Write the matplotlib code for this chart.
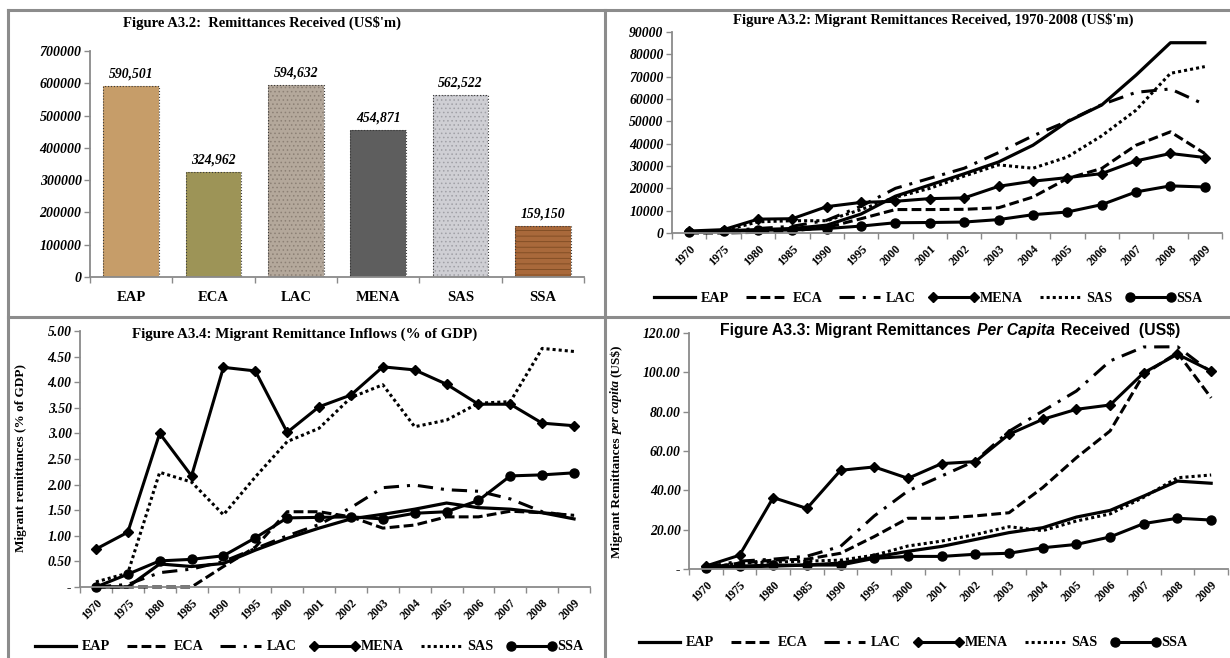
import numpy as np
import matplotlib
matplotlib.use("Agg")
import matplotlib.pyplot as plt
from matplotlib.lines import Line2D

W, H = 1230, 658

REGIONS = ["EAP", "ECA", "LAC", "MENA", "SAS", "SSA"]
YEARS = ["1970", "1975", "1980", "1985", "1990", "1995", "2000", "2001",
         "2002", "2003", "2004", "2005", "2006", "2007", "2008", "2009"]

# Figure A3.2 - total remittances received (US$m)
BAR_TOTALS = [590501, 324962, 594632, 454871, 562522, 159150]

# Figure A3.2 - remittances received per year (US$m)
USD_EAP = [200, 1000, 1500, 2000, 3500, 8500, 16500, 21500, 26500, 31800, 39300, 49800, 57300, 70700, 85200, 85200]
USD_ECA = [0, 0, 300, 1000, 2500, 6400, 10500, 10500, 10600, 11300, 16100, 24400, 28900, 39300, 45300, 35600]
USD_LAC = [200, 1000, 2000, 3000, 5700, 12000, 20000, 24500, 29000, 36000, 43500, 50000, 57500, 63000, 64500, 57500]
USD_MENA = [900, 1500, 6200, 6400, 11800, 13700, 14200, 15400, 15700, 20900, 23200, 24800, 26600, 32300, 35600, 33800]
USD_SAS = [300, 1000, 5000, 5500, 5500, 10500, 16000, 20000, 25500, 30500, 29000, 34000, 43500, 55000, 71500, 74500]
USD_SSA = [300, 700, 1300, 1300, 2000, 3100, 4600, 4700, 4900, 6000, 8200, 9400, 12700, 18400, 21100, 20600]

# Figure A3.4 - remittance inflows (% of GDP)
GDP_EAP = [0.0, 0.0, 0.45, 0.40, 0.46, 0.72, 0.95, 1.15, 1.33, 1.42, 1.52, 1.64, 1.55, 1.52, 1.45, 1.33]
GDP_ECA = [0.0, 0.0, 0.0, 0.0, 0.40, 0.78, 1.47, 1.47, 1.37, 1.15, 1.21, 1.37, 1.37, 1.48, 1.45, 1.40]
GDP_LAC = [0.0, 0.05, 0.28, 0.35, 0.50, 0.75, 1.00, 1.22, 1.55, 1.94, 1.99, 1.90, 1.87, 1.72, 1.47, 1.38]
GDP_MENA = [0.74, 1.07, 3.00, 2.17, 4.29, 4.22, 3.02, 3.52, 3.75, 4.30, 4.24, 3.96, 3.57, 3.57, 3.20, 3.15]
GDP_SAS = [0.10, 0.27, 2.24, 2.05, 1.41, 2.15, 2.84, 3.10, 3.70, 3.95, 3.13, 3.26, 3.59, 3.62, 4.66, 4.60]
GDP_SSA = [0.0, 0.25, 0.51, 0.54, 0.61, 0.96, 1.35, 1.36, 1.37, 1.33, 1.44, 1.47, 1.69, 2.17, 2.19, 2.23]

# Figure A3.3 - remittances per capita (US$)
PC_EAP = [0.5, 1.0, 1.5, 2.0, 3.0, 6.0, 9.0, 11.5, 15.0, 18.5, 21.0, 26.4, 29.8, 37.1, 44.7, 43.6]
PC_ECA = [0.5, 3.0, 4.5, 5.0, 8.0, 16.5, 25.8, 25.8, 27.0, 28.6, 41.4, 56.6, 70.2, 99.0, 110.0, 87.0]
PC_LAC = [1.0, 4.0, 5.0, 6.5, 11.5, 27.0, 39.7, 47.3, 55.0, 70.0, 80.3, 90.5, 105.8, 112.9, 113.0, 100.0]
PC_MENA = [1.5, 7.0, 36.3, 30.8, 50.2, 51.9, 46.1, 53.6, 54.6, 68.5, 76.1, 81.2, 83.4, 99.8, 109.2, 100.7]
PC_SAS = [0.5, 3.0, 3.5, 4.0, 4.5, 7.0, 11.7, 14.2, 17.5, 21.5, 19.5, 24.4, 28.0, 36.5, 46.4, 47.8]
PC_SSA = [0.5, 1.5, 2.0, 2.0, 2.0, 5.4, 6.4, 6.4, 7.5, 8.0, 10.8, 12.5, 16.3, 23.1, 25.8, 24.9]

SERIF = "Liberation Serif"
GREY = "#8a8a8a"

LINE_STYLES = {
    "EAP": dict(linestyle="-", lw=2.3),
    "ECA": dict(linestyle=(0, (3.2, 1.4)), lw=2.2),
    "LAC": dict(linestyle=(0, (5, 2.6, 1, 2.6)), lw=2.2),
    "MENA": dict(linestyle="-", lw=2.2, marker="D", ms=5),
    "SAS": dict(linestyle=(0, (1, 1)), lw=2.2),
    "SSA": dict(linestyle="-", lw=2.2, marker="o", ms=6.5),
}

BAR_COLORS = ["#c69d69", "#9d9457", "#b4a89b", "#5e5e5e", "#cfcfd4", "#a9693b"]
BAR_HATCH = ["", "", "....", "", "....", "---"]
BAR_HATCH_COLOR = ["#a98252", "#9d9457", "#8c8075", "#5e5e5e", "#a0a0a6", "#7c4a22"]

plt.rcParams["hatch.linewidth"] = 0.6

fig = plt.figure(figsize=(W / 100, H / 100), dpi=100)


def px_rect(l, t, r, b):
    return [l / W, 1 - b / H, (r - l) / W, (b - t) / H]


def ftext(x, y, s, **kw):
    return fig.text(x / W, 1 - y / H, s, **kw)


def style_axes(ax):
    for s in ["top", "right"]:
        ax.spines[s].set_visible(False)
    for s in ["left", "bottom"]:
        ax.spines[s].set_color(GREY)
        ax.spines[s].set_linewidth(1.3)
    ax.tick_params(axis="both", which="both", color=GREY, length=4, width=1)
    ax.set_facecolor("none")


def set_yaxis(ax, ticks, labels, size=9.8):
    ax.set_ylim(ticks[0], ticks[-1])
    ax.set_yticks(ticks, labels=labels, fontsize=size, fontweight="bold",
                  fontstyle="italic", family=SERIF)
    ax.tick_params(axis="y", pad=2)


def line_panel(ax, series, ticks, labels, legend_xy):
    style_axes(ax)
    x = np.arange(len(YEARS))
    handles = []
    for name, vals in zip(REGIONS, series):
        h, = ax.plot(x, vals, color="black", label=name, clip_on=False,
                     **LINE_STYLES[name])
        handles.append(h)
    ax.set_xlim(-0.5, len(YEARS) - 0.5)
    ax.set_xticks(x, labels=YEARS, rotation=45, ha="right", va="top",
                  rotation_mode="anchor", fontsize=8.5, fontweight="bold",
                  family=SERIF)
    ax.set_xticks(np.arange(-0.5, len(YEARS), 1), minor=True)
    ax.tick_params(axis="x", which="major", length=0, pad=7)
    set_yaxis(ax, ticks, labels)
    ax.legend(handles=handles, loc="center",
              bbox_to_anchor=(legend_xy[0] / W, 1 - legend_xy[1] / H),
              bbox_transform=fig.transFigure, ncol=6, frameon=False,
              handlelength=3.5, handletextpad=0.1, columnspacing=0.9,
              numpoints=2,
              prop=dict(family=SERIF, weight="bold", size=10.2))


def rich_text(x, y, pieces, rotation=0, gap=4, **common):
    r = fig.canvas.get_renderer()
    texts = []
    for s, extra in pieces:
        if rotation == 0:
            t = fig.text(0, 0, s, ha="left", va="center", **common, **extra)
        else:
            t = fig.text(0, 0, s, rotation=90, ha="center", va="bottom",
                         **common, **extra)
        texts.append(t)
    boxes = [t.get_window_extent(r) for t in texts]
    if rotation == 0:
        total = sum(b.width for b in boxes) + gap * (len(boxes) - 1)
        cur = x - total / 2
        for t, b in zip(texts, boxes):
            t.set_position((cur / W, 1 - y / H))
            cur += b.width + gap
    else:
        total = sum(b.height for b in boxes) + gap * (len(boxes) - 1)
        cur = (H - y) - total / 2
        for t, b in zip(texts, boxes):
            t.set_position((x / W, cur / H))
            cur += b.height + gap


# ---- top left: bar chart
ax1 = fig.add_axes(px_rect(90, 51, 584, 277))
style_axes(ax1)
xb = np.arange(len(REGIONS))
ax1.bar(xb, BAR_TOTALS, width=0.68, color=BAR_COLORS, hatch=BAR_HATCH,
        edgecolor=BAR_HATCH_COLOR, linewidth=0)
outline = ax1.bar(xb, BAR_TOTALS, width=0.68, fill=False, edgecolor="#3a3a3a",
                  linewidth=0.8, linestyle=":")
ax1.bar_label(outline, labels=[f"{v:,}" for v in BAR_TOTALS], padding=4,
              fontsize=9.8, fontweight="bold", fontstyle="italic", family=SERIF)
ax1.set_xlim(-0.5, 5.5)
ax1.set_xticks(xb, labels=REGIONS, fontsize=10.5, fontweight="bold", family=SERIF)
ax1.set_xticks(np.arange(-0.5, 6, 1), minor=True)
ax1.tick_params(axis="x", which="major", length=0, pad=10)
bar_ticks = list(range(0, 700001, 100000))
set_yaxis(ax1, bar_ticks, [str(t) for t in bar_ticks], size=10)
ftext(262, 23, "Figure A3.2:  Remittances Received (US$'m)", ha="center",
      va="center", fontsize=10.5, fontweight="bold", family=SERIF)

# ---- top right: US$m
ax2 = fig.add_axes(px_rect(672, 32, 1222, 233))
usd_ticks = list(range(0, 90001, 10000))
line_panel(ax2, [USD_EAP, USD_ECA, USD_LAC, USD_MENA, USD_SAS, USD_SSA],
           usd_ticks, [str(t) for t in usd_ticks], (926, 298))
ftext(933, 20, "Figure A3.2: Migrant Remittances Received, 1970-2008 (US$'m)",
      ha="center", va="center", fontsize=10.5, fontweight="bold", family=SERIF)

# ---- bottom left: % of GDP
ax3 = fig.add_axes(px_rect(80, 331, 590, 587))
gdp_ticks = [i * 0.5 for i in range(11)]
line_panel(ax3, [GDP_EAP, GDP_ECA, GDP_LAC, GDP_MENA, GDP_SAS, GDP_SSA],
           gdp_ticks, ["-"] + [f"{t:.2f}" for t in gdp_ticks[1:]], (307, 647))
ftext(305, 334, "Figure A3.4: Migrant Remittance Inflows (% of GDP)",
      ha="center", va="center", fontsize=10.8, fontweight="bold", family=SERIF)
ftext(21, 458, "Migrant remittances (% of GDP)", rotation=90, ha="center",
      va="center", fontsize=9.5, fontweight="bold", family=SERIF)

# ---- bottom right: per capita
ax4 = fig.add_axes(px_rect(689, 333, 1228, 569))
pc_ticks = list(range(0, 121, 20))
line_panel(ax4, [PC_EAP, PC_ECA, PC_LAC, PC_MENA, PC_SAS, PC_SSA],
           pc_ticks, ["-"] + [f"{t:.2f}" for t in pc_ticks[1:]], (911, 643))
rich_text(950, 331, [("Figure A3.3: Migrant Remittances", {}),
                     ("Per Capita", dict(fontstyle="italic")),
                     ("Received  (US$)", {})],
          gap=6, fontsize=11.3, fontweight="bold", family="Liberation Sans")
rich_text(617, 451, [("Migrant Remittances", {}),
                     ("per capita", dict(fontstyle="italic")),
                     ("(US$)", {})],
          rotation=90, gap=3, fontsize=9.5, fontweight="bold", family=SERIF)

# ---- panel borders
for (x0, y0, x1, y1) in [(8, 10, 1230, 10), (8, 10, 8, 658),
                         (605, 10, 605, 658), (8, 317, 1230, 317)]:
    fig.add_artist(Line2D([x0 / W, x1 / W], [1 - y0 / H, 1 - y1 / H],
                          color="#8c8c8c", lw=2.2))

fig.savefig("out.png", dpi=100, facecolor="white")
